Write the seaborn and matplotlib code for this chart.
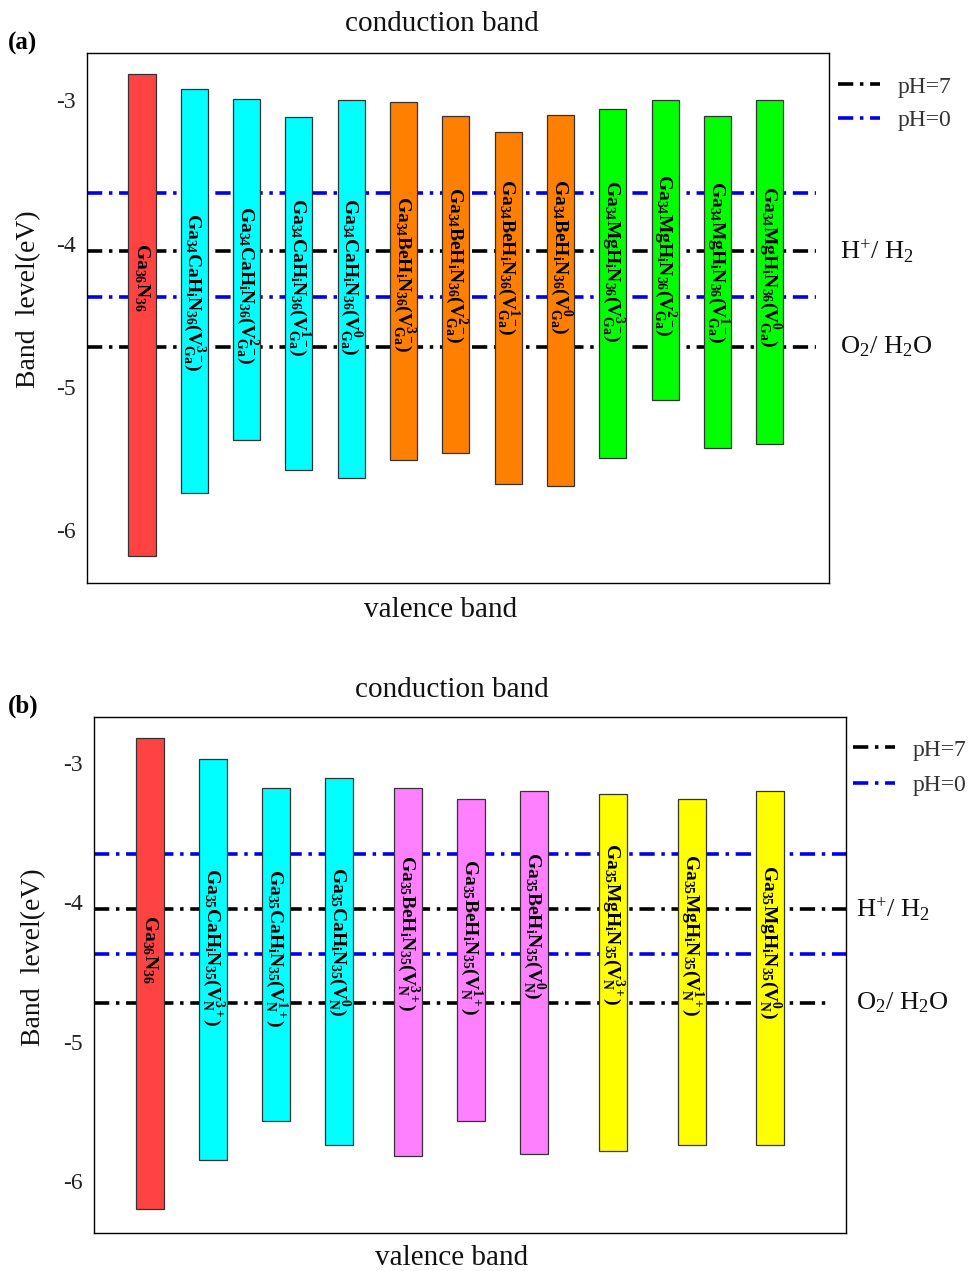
import numpy as np
import pandas as pd
import matplotlib
matplotlib.use("Agg")
import matplotlib.pyplot as plt
import matplotlib.transforms as mtrans
from matplotlib.lines import Line2D
import seaborn as sns

# ---------------- data ----------------
a_labels = [
    r"$\mathbf{Ga_{36}N_{36}}$",
    r"$\mathbf{Ga_{34}CaH_{i}N_{36}(V_{Ga}^{3-})}$",
    r"$\mathbf{Ga_{34}CaH_{i}N_{36}(V_{Ga}^{2-})}$",
    r"$\mathbf{Ga_{34}CaH_{i}N_{36}(V_{Ga}^{1-})}$",
    r"$\mathbf{Ga_{34}CaH_{i}N_{36}(V_{Ga}^{0})}$",
    r"$\mathbf{Ga_{34}BeH_{i}N_{36}(V_{Ga}^{3-})}$",
    r"$\mathbf{Ga_{34}BeH_{i}N_{36}(V_{Ga}^{2-})}$",
    r"$\mathbf{Ga_{34}BeH_{i}N_{36}(V_{Ga}^{1-})}$",
    r"$\mathbf{Ga_{34}BeH_{i}N_{36}(V_{Ga}^{0})}$",
    r"$\mathbf{Ga_{34}MgH_{i}N_{36}(V_{Ga}^{3-})}$",
    r"$\mathbf{Ga_{34}MgH_{i}N_{36}(V_{Ga}^{2-})}$",
    r"$\mathbf{Ga_{34}MgH_{i}N_{36}(V_{Ga}^{1-})}$",
    r"$\mathbf{Ga_{34}MgH_{i}N_{36}(V_{Ga}^{0})}$",
]
a_groups = ["GaN", "Ca", "Ca", "Ca", "Ca", "Be", "Be", "Be", "Be", "Mg", "Mg", "Mg", "Mg"]
a_cb = [-2.82, -2.92, -2.99, -3.12, -3.00, -3.01, -3.11, -3.22, -3.10, -3.06, -3.00, -3.11, -3.00]
a_vb = [-6.18, -5.74, -5.37, -5.58, -5.64, -5.51, -5.46, -5.68, -5.69, -5.50, -5.09, -5.43, -5.40]

b_labels = [
    r"$\mathbf{Ga_{36}N_{36}}$",
    r"$\mathbf{Ga_{35}CaH_{i}N_{35}(V_{N}^{3+})}$",
    r"$\mathbf{Ga_{35}CaH_{i}N_{35}(V_{N}^{1+})}$",
    r"$\mathbf{Ga_{35}CaH_{i}N_{35}(V_{N}^{0})}$",
    r"$\mathbf{Ga_{35}BeH_{i}N_{35}(V_{N}^{3+})}$",
    r"$\mathbf{Ga_{35}BeH_{i}N_{35}(V_{N}^{1+})}$",
    r"$\mathbf{Ga_{35}BeH_{i}N_{35}(V_{N}^{0})}$",
    r"$\mathbf{Ga_{35}MgH_{i}N_{35}(V_{N}^{3+})}$",
    r"$\mathbf{Ga_{35}MgH_{i}N_{35}(V_{N}^{1+})}$",
    r"$\mathbf{Ga_{35}MgH_{i}N_{35}(V_{N}^{0})}$",
]
b_groups = ["GaN", "Ca", "Ca", "Ca", "BeN", "BeN", "BeN", "MgN", "MgN", "MgN"]
b_cb = [-2.82, -2.97, -3.18, -3.11, -3.18, -3.26, -3.20, -3.22, -3.26, -3.20]
b_vb = [-6.20, -5.85, -5.57, -5.74, -5.82, -5.57, -5.80, -5.78, -5.74, -5.74]

ph7_levels = [-4.05, -4.72]   # H+/H2 , O2/H2O
ph0_levels = [-3.65, -4.37]
redox_labels = [r"H$^{+}$/ H$_{2}$", r"O$_{2}$/ H$_{2}$O"]
legend_labels = ["pH=7", "pH=0"]
y_ticks = [-3, -4, -5, -6]
y_ticklabels = ["-3", "-4", "-5", "-6"]

# ---------------- style / layout ----------------
group_colors = {"GaN": "#FF4242", "Ca": "#00FFFF", "Be": "#FF8000",
                "Mg": "#00FF00", "BeN": "#FF80FF", "MgN": "#FFFF00"}

sns.set_theme(style="white")
plt.rcParams["font.family"] = ["Liberation Serif", "DejaVu Serif"]
plt.rcParams["mathtext.fontset"] = "custom"
plt.rcParams["mathtext.rm"] = "Liberation Serif"
plt.rcParams["mathtext.it"] = "Liberation Serif:italic"
plt.rcParams["mathtext.bf"] = "Liberation Serif:bold"
plt.rcParams["axes.unicode_minus"] = False
plt.rcParams["lines.scale_dashes"] = False

W, H = 972, 1271
fig = plt.figure(figsize=(W / 100, H / 100), dpi=100)


def fx(px):
    return px / W


def fy(py):
    return 1 - py / H


DASH = (11, 4.8, 2.5, 4.8)
LW = 2.6

panels = [
    dict(frame=(87, 53, 829, 583), pos=np.arange(13, dtype=float), width=0.516,
         xlim=(-1.051, 13.128), labels=a_labels, groups=a_groups, cb=a_cb, vb=a_vb,
         label_y=[-4.237, -4.341, -4.293, -4.237, -4.230, -4.216, -4.153, -4.098,
                  -4.091, -4.125, -4.084, -4.132, -4.160],
         line_xmax=[0.983, 0.983, 0.983, 0.983],
         tag="(a)", tag_xy=(8, 43), cond_xy=(442, 24), val_xy=(441, 610),
         legend_xy=(838, 76), legend_sp=0.52, redox_x=840, ylab_x=-0.062),
    dict(frame=(94, 717, 846, 1233),
         pos=np.array([0, 1, 2, 3, 4.1, 5.1, 6.1, 7.35, 8.6, 9.85]), width=0.444,
         xlim=(-0.889, 11.05), labels=b_labels, groups=b_groups, cb=b_cb, vb=b_vb,
         label_y=[-4.335, -4.32, -4.327, -4.284, -4.219, -4.248, -4.169, -4.155,
                  -4.234, -4.284],
         line_xmax=[1.0, 1.0, 1.0, 0.976],
         tag="(b)", tag_xy=(8, 706), cond_xy=(452, 690), val_xy=(452, 1258),
         legend_xy=(853, 739), legend_sp=0.6, redox_x=856, ylab_x=-0.064),
]

for p in panels:
    l, t, r, b = p["frame"]
    ax = fig.add_axes([fx(l), fy(b), (r - l) / W, (b - t) / H])

    cb = np.array(p["cb"])
    vb = np.array(p["vb"])
    df = pd.DataFrame({"pos": p["pos"], "height": cb - vb})
    sns.barplot(data=df, x="pos", y="height", native_scale=True, orient="x",
                width=p["width"], errorbar=None, color="white", saturation=1,
                bottom=vb,
                facecolor=[group_colors[g] for g in p["groups"]],
                edgecolor="#333333", linewidth=0.9, zorder=3, ax=ax)

    # reference levels
    levels = [(ph0_levels[0], "#0000EE"), (ph7_levels[0], "black"),
              (ph0_levels[1], "#0000EE"), (ph7_levels[1], "black")]
    for (lev, col), xm in zip(levels, p["line_xmax"]):
        ax.axhline(lev, xmin=0, xmax=xm, color=col, lw=LW, dashes=DASH, zorder=1)

    # bar labels
    for xpos, yl, lab in zip(p["pos"], p["label_y"], p["labels"]):
        ax.text(xpos, yl, lab, rotation=-90, ha="center", va="center",
                fontsize=14, color="black", zorder=4)

    ax.set_xlim(*p["xlim"])
    ax.set_ylim(-6.37, -2.67)
    ax.set_xticks([])
    ax.set_xlabel("")
    ax.set_yticks(y_ticks)
    ax.set_yticklabels(y_ticklabels, fontsize=17, color="#222222")
    ax.tick_params(axis="y", length=0, pad=8)
    ax.set_ylabel("Band  level(eV)", fontsize=20, color="#111111")
    ax.yaxis.set_label_coords(p["ylab_x"], 0.535)
    for s in ax.spines.values():
        s.set_visible(True)
        s.set_color("black")
        s.set_linewidth(1.0)
    ax.grid(False)

    # redox labels on right
    trans = mtrans.blended_transform_factory(fig.transFigure, ax.transData)
    for lev, txt in zip(ph7_levels, redox_labels):
        ax.text(fx(p["redox_x"]), lev, txt, transform=trans, ha="left", va="center",
                fontsize=19, color="#111111")

    # legend
    handles = [Line2D([0], [0], color="black", lw=LW, dashes=DASH),
               Line2D([0], [0], color="#0000EE", lw=LW, dashes=DASH)]
    lx, ly = p["legend_xy"]
    leg = ax.legend(handles, legend_labels, loc="upper left",
                    bbox_to_anchor=(fx(lx), fy(ly)), bbox_transform=fig.transFigure,
                    frameon=False, borderaxespad=0, borderpad=0, fontsize=17,
                    handlelength=1.78, handletextpad=0.76,
                    labelspacing=p["legend_sp"])
    for ttxt in leg.get_texts():
        ttxt.set_color("#333333")

    # titles
    fig.text(fx(p["cond_xy"][0]), fy(p["cond_xy"][1]), "conduction band",
             ha="center", va="center", fontsize=21, color="#111111")
    fig.text(fx(p["val_xy"][0]), fy(p["val_xy"][1]), "valence band",
             ha="center", va="center", fontsize=21, color="#111111")
    fig.text(fx(p["tag_xy"][0]), fy(p["tag_xy"][1]), p["tag"], ha="left",
             va="center", fontsize=18, fontweight="bold", color="black")

fig.savefig("out.png", dpi=100)
